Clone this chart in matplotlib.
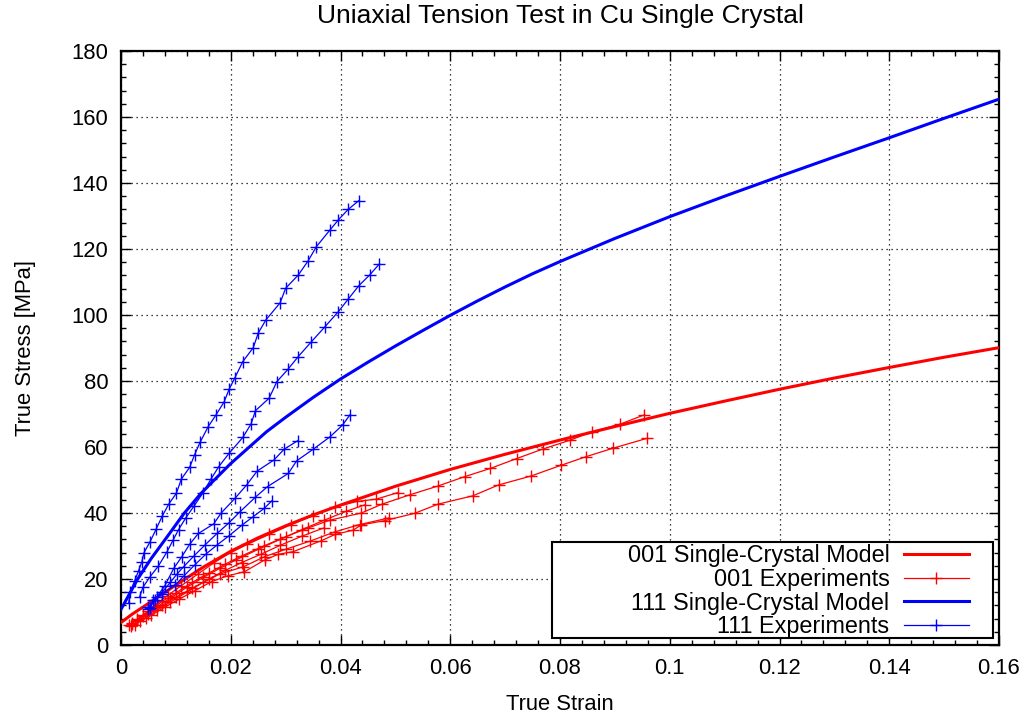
import matplotlib
matplotlib.use("Agg")
import matplotlib.pyplot as plt
from matplotlib.ticker import MultipleLocator, FuncFormatter
from matplotlib.patches import Rectangle

# --- data ---
model_001_strain = [0, 0.002, 0.005, 0.01, 0.015, 0.02, 0.025, 0.03, 0.035, 0.04, 0.05, 0.06,
                    0.07, 0.08, 0.09, 0.1, 0.11, 0.12, 0.13, 0.14, 0.15, 0.16]
model_001_stress = [6.8, 9.3, 12.6, 18.2, 23.6, 28.4, 32.5, 36.1, 39.4, 42.4, 48.1, 53.2,
                    57.8, 62.1, 66.2, 70.2, 73.9, 77.5, 80.9, 84.1, 87.2, 90.1]

model_111_strain = [0, 0.003, 0.0055, 0.0085, 0.0115, 0.0145, 0.017, 0.02, 0.0265, 0.03, 0.035,
                    0.04, 0.045, 0.05, 0.055, 0.06, 0.065, 0.07, 0.075, 0.08, 0.09, 0.1, 0.11,
                    0.12, 0.13, 0.14, 0.15, 0.16]
model_111_stress = [10.8, 19.9, 26.2, 33.0, 39.9, 45.8, 50.0, 55.0, 64.6, 69.0, 75.0,
                    80.6, 85.7, 90.6, 95.3, 99.9, 104.3, 108.5, 112.5, 116.2, 123.2, 129.8, 136.0,
                    142.0, 147.9, 153.7, 159.6, 165.4]

exp_001_strain = [
    [0.0015, 0.003, 0.005, 0.0075, 0.01, 0.013, 0.016, 0.019, 0.022, 0.026, 0.03, 0.034, 0.038,
     0.0438, 0.0476, 0.0526, 0.0578, 0.0626, 0.0673, 0.0721, 0.0769, 0.0819, 0.0858, 0.0909, 0.0953],
    [0.0018, 0.0035, 0.0055, 0.008, 0.0105, 0.0135, 0.0165, 0.0195, 0.0225, 0.0262, 0.0287, 0.0314,
     0.0365, 0.039, 0.0423, 0.0438, 0.0481, 0.0535, 0.0578, 0.0641, 0.0688, 0.0747, 0.0801, 0.0848,
     0.0896, 0.0958],
    [0.002, 0.004, 0.006, 0.0085, 0.011, 0.014, 0.017, 0.02, 0.023, 0.027, 0.031, 0.035, 0.039,
     0.043, 0.0465, 0.0505],
    [0.0025, 0.0045, 0.0065, 0.009, 0.012, 0.015, 0.018, 0.0223, 0.0262, 0.03, 0.0345, 0.039,
     0.0435, 0.0488],
    [0.002, 0.004, 0.0065, 0.009, 0.012, 0.015, 0.018, 0.021, 0.025, 0.029, 0.033, 0.037, 0.041, 0.0445],
    [0.003, 0.005, 0.0075, 0.01, 0.013, 0.016, 0.019, 0.022, 0.0255, 0.029, 0.033, 0.037],
]
exp_001_stress = [
    [6.0, 7.8, 10.2, 13.2, 15.8, 19.0, 21.8, 24.5, 27.0, 30.0, 32.8, 35.4, 37.8,
     40.0, 42.7, 45.5, 48.2, 51.0, 53.5, 56.5, 59.4, 62.1, 64.6, 66.9, 69.7],
    [5.8, 7.2, 9.0, 11.5, 13.8, 16.5, 19.2, 21.0, 22.2, 25.8, 27.5, 28.3,
     31.6, 33.5, 34.8, 36.4, 37.7, 39.9, 42.7, 45.2, 48.5, 51.2, 54.4, 57.1, 59.6, 62.6],
    [6.5, 9.0, 11.8, 15.0, 18.0, 21.5, 25.0, 28.0, 30.5, 33.5, 36.5, 39.2, 41.8, 43.5, 44.2, 46.2],
    [6.2, 8.3, 10.5, 13.0, 16.0, 19.0, 21.5, 23.7, 26.8, 29.0, 31.5, 34.3, 36.5, 38.5],
    [6.8, 8.8, 11.5, 14.2, 17.5, 20.5, 23.2, 25.8, 29.0, 32.0, 35.0, 37.8, 40.5, 42.5],
    [7.5, 9.5, 12.0, 14.5, 17.2, 20.0, 22.6, 25.0, 27.5, 30.2, 33.0, 35.5],
]

exp_111_strain = [
    [0.0014, 0.0017, 0.0025, 0.0032, 0.0038, 0.0042, 0.0053, 0.0064, 0.0075, 0.0087, 0.0101, 0.011,
     0.0125, 0.0134, 0.0144, 0.0159, 0.0173, 0.0188, 0.0197, 0.0207, 0.0222, 0.0241, 0.025, 0.0264,
     0.029, 0.03, 0.0323, 0.0341, 0.0356, 0.0381, 0.0396, 0.0414, 0.0433],
    [0.0034, 0.004, 0.0053, 0.0068, 0.0084, 0.0095, 0.0105, 0.0118, 0.0133, 0.0149, 0.0164, 0.0178,
     0.0197, 0.0222, 0.0237, 0.0245, 0.027, 0.0284, 0.0304, 0.0323, 0.0347, 0.0372, 0.0396, 0.0414,
     0.0433, 0.0453, 0.0471],
    [0.005, 0.0062, 0.0075, 0.009, 0.0102, 0.0114, 0.0133, 0.0153, 0.0175, 0.0196, 0.0217, 0.0245,
     0.0267, 0.0305, 0.032, 0.035, 0.0381, 0.0404, 0.0417],
    [0.005, 0.0065, 0.008, 0.0096, 0.0111, 0.0125, 0.0141, 0.0169, 0.0182, 0.0208, 0.0229, 0.0248,
     0.0279, 0.0297, 0.0322],
    [0.0053, 0.0059, 0.0075, 0.0099, 0.0115, 0.0134, 0.0155, 0.0175, 0.0196, 0.0221, 0.0241, 0.0261,
     0.0275],
]
exp_111_stress = [
    [12.8, 16.2, 19.5, 22.5, 25.2, 28.0, 31.3, 35.1, 39.0, 42.7, 46.0, 50.3,
     53.8, 57.6, 61.4, 66.2, 69.7, 73.7, 77.5, 80.8, 85.9, 90.1, 94.5, 98.5,
     103.7, 108.1, 112.1, 116.4, 120.7, 125.8, 128.8, 132.0, 134.6],
    [14.6, 17.5, 20.7, 23.9, 28.3, 31.8, 35.0, 38.5, 42.1, 46.0, 50.3, 54.0,
     58.1, 62.9, 67.0, 71.0, 74.8, 79.8, 83.5, 87.4, 91.9, 96.5, 101.0, 104.8,
     108.8, 112.1, 115.5],
    [11.0, 13.5, 16.0, 19.0, 21.5, 23.7, 27.0, 30.3, 33.8, 36.9, 40.4, 44.8,
     48.0, 52.0, 55.8, 59.3, 63.1, 66.7, 69.7],
    [11.5, 14.5, 18.0, 23.2, 26.8, 30.5, 33.8, 36.7, 39.9, 44.5, 48.5, 52.7,
     56.1, 59.3, 61.9],
    [11.1, 13.6, 15.5, 18.2, 21.0, 24.2, 27.6, 30.3, 33.0, 36.4, 38.9, 41.4, 43.7],
]

legend_labels = ['001 Single-Crystal Model', '001 Experiments',
                 '111 Single-Crystal Model', '111 Experiments']

RED = '#ff0000'
BLUE = '#0000ff'

plt.rcParams['font.family'] = ['Liberation Sans', 'DejaVu Sans']
plt.rcParams['font.size'] = 15.8

fig = plt.figure(figsize=(10.31, 7.19), dpi=100)
ax = fig.add_axes([121 / 1031, 1 - 645 / 719, 878 / 1031, 594 / 719])

h1, = ax.plot(model_001_strain, model_001_stress, color=RED, lw=2.2, zorder=3)
for xs, ys in zip(exp_001_strain, exp_001_stress):
    h2, = ax.plot(xs, ys, color=RED, lw=0.9, marker='+', ms=8.5, mew=1.0, zorder=4)
h3, = ax.plot(model_111_strain, model_111_stress, color=BLUE, lw=2.2, zorder=5)
for xs, ys in zip(exp_111_strain, exp_111_stress):
    h4, = ax.plot(xs, ys, color=BLUE, lw=0.9, marker='+', ms=8.5, mew=1.0, zorder=6)

ax.set_xlim(0, 0.16)
ax.set_ylim(0, 180)
ax.xaxis.set_major_locator(MultipleLocator(0.02))
ax.xaxis.set_minor_locator(MultipleLocator(0.004))
ax.yaxis.set_major_locator(MultipleLocator(20))
ax.yaxis.set_minor_locator(MultipleLocator(4))
ax.xaxis.set_major_formatter(FuncFormatter(lambda v, p: '%g' % round(v, 4)))
ax.tick_params(which='both', direction='in', top=True, right=True, width=1.0)
ax.tick_params(which='major', length=7, pad=9)
ax.tick_params(which='minor', length=3.5)
for s in ax.spines.values():
    s.set_linewidth(1.6)

ax.grid(True, which='major', color='black', linestyle=(0, (1, 3)), linewidth=0.9)
ax.set_axisbelow(True)

ax.set_title('Uniaxial Tension Test in Cu Single Crystal', pad=20)
ax.set_xlabel('True Strain', labelpad=11)
ax.set_ylabel('True Stress [MPa]', labelpad=26)

# legend box (gnuplot style: opaque, square, text right aligned)
ax.add_patch(Rectangle((0.491, 0.0125), 0.502, 0.161, transform=ax.transAxes,
                       facecolor='white', edgecolor='black', lw=1.5, zorder=10))
leg = ax.legend([h1, h2, h3, h4], legend_labels, loc='lower right',
                bbox_to_anchor=(0.987, -0.020), frameon=False, markerfirst=False,
                fontsize=16.8, handlelength=2.8, handletextpad=0.6, labelspacing=0.03,
                borderpad=0.3)
leg.set_zorder(11)
for col in leg._legend_handle_box.get_children():
    col.align = 'right'

fig.savefig('out.png', dpi=100)
